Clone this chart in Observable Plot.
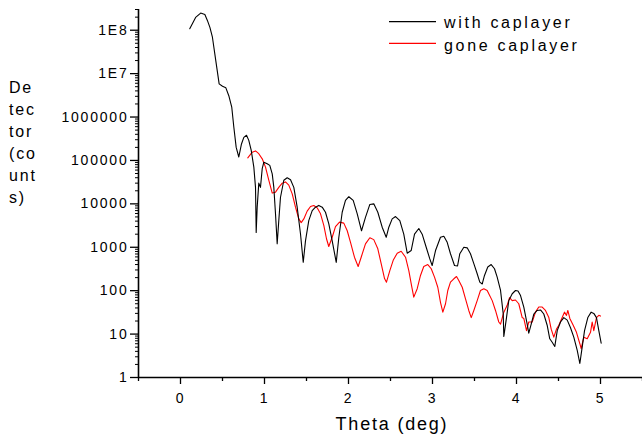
<!DOCTYPE html>
<html><head><meta charset="utf-8">
<script src="https://cdn.jsdelivr.net/npm/d3@7"></script>
<script src="https://cdn.jsdelivr.net/npm/@observablehq/plot@0.6"></script>
<style>
html,body{margin:0;padding:0;background:#fff;}
#chart{position:relative;width:642px;height:435px;}
#chart svg text{letter-spacing:1.8px;}
</style></head><body><div id="chart"></div>
<script>
const thetaWith = [0.11,0.18,0.24,0.29,0.32,0.35,0.38,0.42,0.46,0.50,
0.54,0.575,0.61,0.635,0.663,0.694,0.726,0.754,0.786,0.813,
0.842,0.873,0.893,0.901,0.913,0.932,0.952,0.973,0.992,1.032,
1.063,1.092,1.111,1.131,1.151,1.170,1.190,1.230,1.270,1.310,
1.349,1.389,1.429,1.461,1.488,1.527,1.568,1.607,1.646,1.687,
1.726,1.765,1.806,1.854,1.885,1.925,1.964,2.004,2.056,2.104,
2.155,2.202,2.254,2.301,2.349,2.401,2.449,2.480,2.520,2.560,
2.611,2.658,2.699,2.746,2.786,2.837,2.877,2.925,2.968,2.996,
3.036,3.095,3.135,3.175,3.214,3.262,3.298,3.325,3.373,3.413,
3.452,3.492,3.532,3.563,3.592,3.619,3.658,3.699,3.738,3.770,
3.810,3.842,3.849,3.881,3.908,3.949,3.988,4.018,4.048,4.087,
4.127,4.146,4.175,4.206,4.246,4.286,4.325,4.365,4.396,4.425,
4.456,4.485,4.524,4.563,4.604,4.643,4.682,4.723,4.754,4.782,
4.810,4.849,4.889,4.920,4.952,4.980,5.008];
const countsWith = [1.08e8,1.97e8,2.48e8,2.31e8,1.68e8,1.16e8,6.9e7,2.0e7,5.8e6,5.1e6,
4.7e6,3.1e6,1.7e6,5.8e5,2.0e5,1.2e5,2.4e5,3.4e5,3.8e5,2.9e5,
1.7e5,7.0e4,2.4e4,2.2e3,8.4e3,3.0e4,2.4e4,6.5e4,9.1e4,8.4e4,
7.7e4,4.9e4,2.4e4,5.9e3,1.2e3,4.1e3,1.4e4,3.5e4,4.0e4,3.6e4,
2.4e4,8.4e3,2.0e3,450,1.4e3,4.1e3,7.0e3,8.4e3,9.2e3,8.4e3,
6.4e3,3.5e3,1.4e3,450,1.7e3,6.4e3,1.2e4,1.46e4,1.2e4,5.9e3,
2.4e3,4.9e3,9.7e3,1.0e4,6.4e3,2.9e3,1.7e3,2.9e3,4.5e3,5.1e3,
4.1e3,2.0e3,730,840,2.0e3,2.7e3,2.0e3,1.0e3,540,380,
840,1.7e3,1.8e3,1.3e3,710,380,370,710,1.0e3,970,
710,420,245,157,143,224,350,400,320,205,
101,29,8.8,24,59,85,101,98,77,42,
17,10.5,17,29,35,36,29,16,7.8,6.5,
5.2,12,19,24,21,14,8.5,4.2,2.1,5.0,
12,24,32,30,24,12,6.2];
const thetaGone = [0.801,0.854,0.893,0.932,0.973,1.012,1.051,1.092,1.131,1.170,
1.211,1.250,1.289,1.330,1.369,1.408,1.437,1.468,1.508,1.548,
1.587,1.627,1.667,1.706,1.738,1.765,1.806,1.845,1.893,1.944,
1.985,2.024,2.071,2.115,2.151,2.202,2.254,2.301,2.349,2.389,
2.429,2.452,2.492,2.532,2.580,2.627,2.679,2.718,2.750,2.777,
2.818,2.857,2.896,2.944,2.985,3.024,3.063,3.095,3.123,3.155,
3.182,3.214,3.254,3.286,3.313,3.354,3.393,3.432,3.461,3.492,
3.532,3.571,3.611,3.651,3.670,3.711,3.750,3.789,3.810,3.849,
3.889,3.917,3.949,3.988,4.027,4.068,4.087,4.119,4.146,4.187,
4.226,4.265,4.306,4.345,4.385,4.413,4.444,4.476,4.504,4.544,
4.571,4.595,4.611,4.635,4.675,4.714,4.754,4.770,4.801,4.842,
4.881,4.901,4.920,4.952,4.980,5.000];
const countsGone = [1.15e5,1.55e5,1.66e5,1.43e5,1.09e5,7.0e4,3.5e4,1.77e4,1.86e4,2.4e4,
3.0e4,3.2e4,2.7e4,1.7e4,8.4e3,4.5e3,3.7e3,4.5e3,6.8e3,8.7e3,
9.2e3,8.1e3,5.9e3,3.2e3,1.57e3,1.04e3,1.7e3,3.0e3,3.8e3,3.6e3,
2.4e3,1.3e3,590,360,590,1.2e3,1.66e3,1.5e3,920,420,
190,157,290,500,730,810,590,290,132,71,
111,224,360,400,320,205,120,54,32,50,
101,157,188,212,172,120,65,35,24,35,
59,101,111,101,85,59,35,19,17,32,
46,69,59,61,50,24,23,12,19,19,
32,42,42,35,24,13,8.5,13,16,24,
32,27,35,23,16,11,6.0,4.6,8.5,7.8,
11,19,12,24,27,26];
const xTicks = [0,1,2,3,4,5];
const xMinorTicks = [-0.5,0.5,1.5,2.5,3.5,4.5,5.5];
const yTicks = [1,10,100,1000,1e4,1e5,1e6,1e7,1e8];
const yTickLabels = ["1","10","100","1000","10000","100000","1000000","1E7","1E8"];
const seriesNames = ["with caplayer","gone caplayer"];
const seriesColors = ["#000000","#ff0000"];
const xLabel = "Theta (deg)";
const yLabelLines = ["De","tec","tor","(co","unt","s)"];

const yMinor = [];
for (let e = 0; e <= 8; e++) for (let m = 2; m <= 9; m++) { const v = m * Math.pow(10, e); if (v <= 3e8) yMinor.push(v); }
const withData = thetaWith.map((t, i) => ({theta: t, counts: countsWith[i]}));
const goneData = thetaGone.map((t, i) => ({theta: t, counts: countsGone[i]}));
const labelMap = new Map(yTicks.map((v, i) => [v, yTickLabels[i]]));

const plot = Plot.plot({
  width: 642, height: 435,
  marginLeft: 138, marginRight: 0, marginTop: 9, marginBottom: 58,
  style: {fontFamily: "'Liberation Sans', Arial, sans-serif", background: "#fff", color: "#000", overflow: "visible"},
  x: {domain: [-0.5, 5.5], label: null},
  y: {type: "log", domain: [1, 3e8], label: null},
  marks: [
    Plot.axisX(xMinorTicks, {tickSize: 4, text: null, label: null, strokeWidth: 1.3}),
    Plot.axisX(xTicks, {tickSize: 7, tickPadding: 9, fontSize: 14, label: null, strokeWidth: 1.3, tickFormat: d => String(d)}),
    Plot.axisY(yMinor, {tickSize: 3, text: null, label: null, strokeWidth: 1}),
    Plot.axisY(yTicks, {tickSize: 8, tickPadding: 2, fontSize: 14, label: null, strokeWidth: 1.3, tickFormat: d => labelMap.get(d)}),
    Plot.ruleX([-0.5], {strokeWidth: 1.6}),
    Plot.ruleY([1], {strokeWidth: 1.6}),
    Plot.line(goneData, {x: "theta", y: "counts", stroke: seriesColors[1], strokeWidth: 1.1}),
    Plot.line(withData, {x: "theta", y: "counts", stroke: seriesColors[0], strokeWidth: 1.1})
  ]
});

const svg = d3.select(plot);
const ff = "'Liberation Sans', Arial, sans-serif";
const legY = [21.7, 43.3];
const legBase = [28, 51];
seriesNames.forEach((name, i) => {
  svg.append("line").attr("x1", 389).attr("x2", 436).attr("y1", legY[i]).attr("y2", legY[i])
    .attr("stroke", seriesColors[i]).attr("stroke-width", 1.2);
  svg.append("text").attr("x", 444).attr("y", legBase[i]).attr("font-size", 16)
    .attr("text-anchor", "start")
    .attr("font-family", ff).attr("fill", "#000").style("letter-spacing", "2.7px").text(name);
});
svg.append("text").attr("x", 392).attr("y", 430).attr("text-anchor", "middle")
  .attr("font-size", 18).attr("font-family", ff).attr("fill", "#000").style("letter-spacing", "1.8px").text(xLabel);
const yl = svg.append("text").attr("font-size", 16).attr("font-family", ff).attr("fill", "#000")
  .attr("text-anchor", "start").style("letter-spacing", "1.8px");
yLabelLines.forEach((s, i) => {
  yl.append("tspan").attr("x", 9).attr("y", 93 + i * 22).text(s);
});
document.getElementById("chart").appendChild(plot);
</script>
</body></html>
